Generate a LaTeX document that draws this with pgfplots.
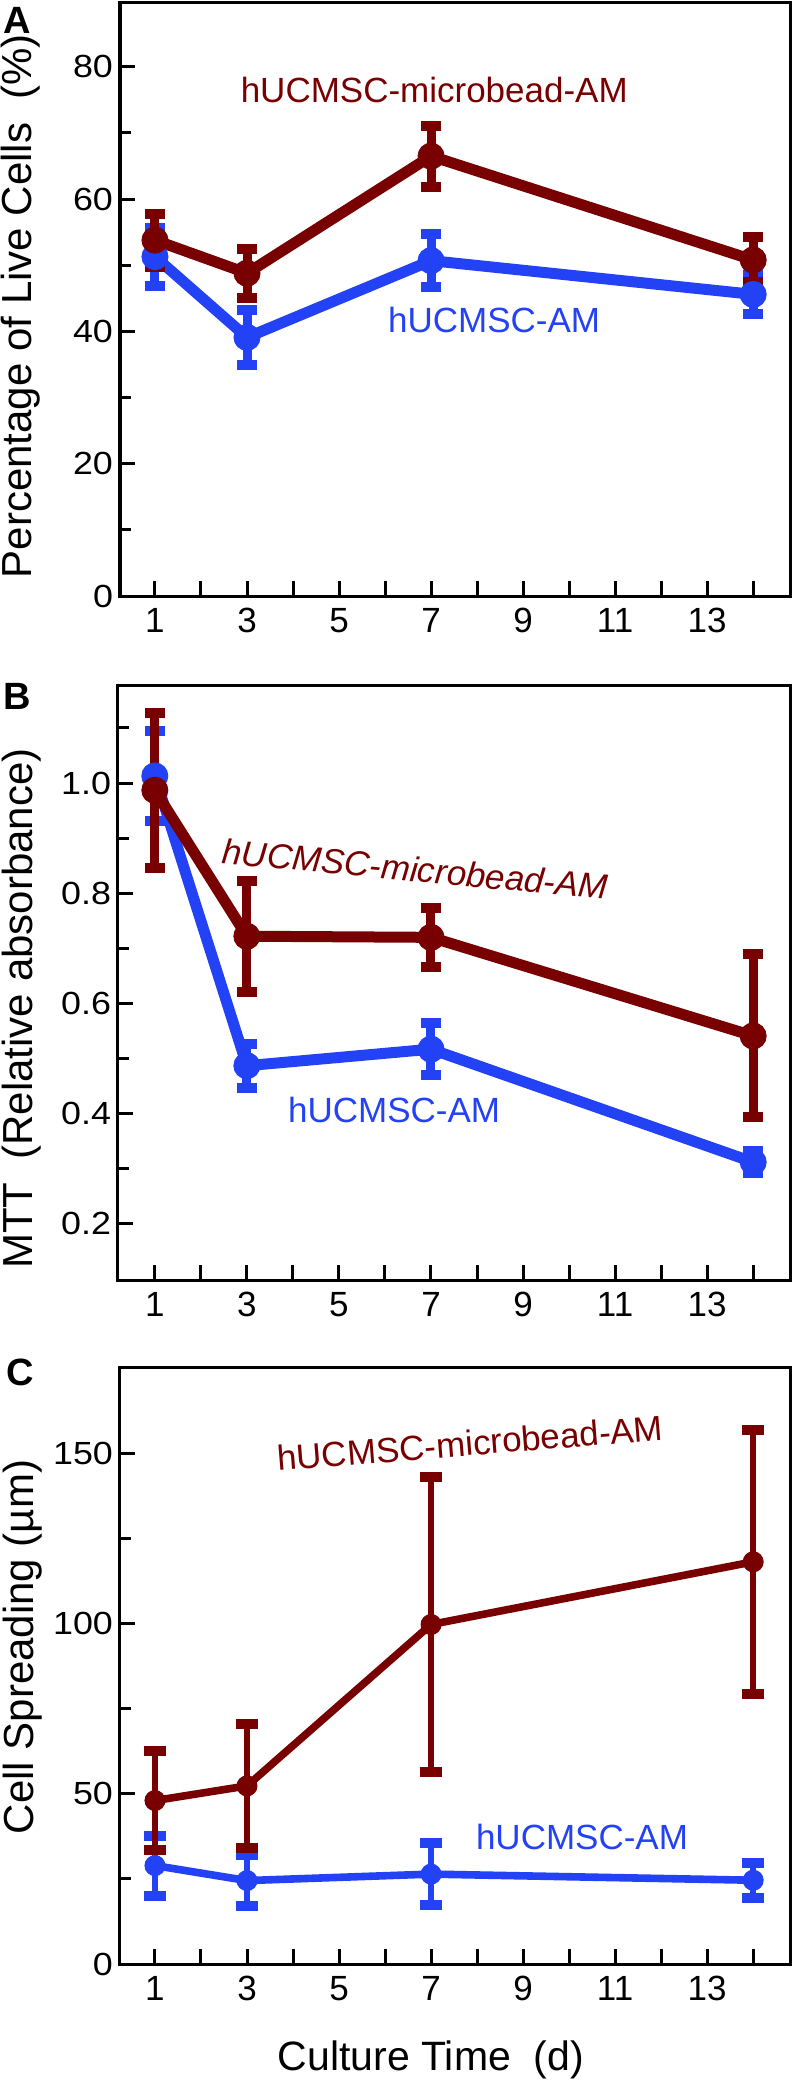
\documentclass[border=0pt]{standalone}
\usepackage{pgfplots}
\pgfplotsset{compat=1.18}
\usepackage{pgfplotstable}
\usepackage{fontspec}
\setmainfont{Liberation Sans}
\newfontfamily\ytfont[FakeStretch=1.12]{Liberation Sans}
\definecolor{dred}{RGB}{120,0,0}
\definecolor{dblue}{RGB}{35,65,245}

\pgfplotstableread{
x y e
1 53.8 4.0
3 48.8 3.7
7 66.5 4.6
14 50.8 3.4
}\redA
\pgfplotstableread{
x y e
1 51.3 4.4
3 39.1 4.2
7 50.7 4.0
14 45.6 3.0
}\blueA
\pgfplotstableread{
x y e
1 0.987 0.141
3 0.722 0.101
7 0.720 0.054
14 0.541 0.148
}\redB
\pgfplotstableread{
x y e
1 1.013 0.082
3 0.487 0.040
7 0.517 0.047
14 0.312 0.020
}\blueB
\pgfplotstableread{
x y e
1 48.0 14.6
3 52.3 18.2
7 99.7 43.3
14 118.1 38.7
}\redC
\pgfplotstableread{
x y e
1 28.9 8.8
3 24.5 7.5
7 26.4 9.1
14 24.6 5.2
}\blueC

\pgfplotsset{
  myaxis/.style={
    scale only axis,
    axis line style={line width=1.5pt},
    tick pos=left, tick align=inside,
    major tick length=7.5pt, minor tick length=5.5pt,
    every tick/.style={black, line width=1.5pt},
    xtick={1,...,14}, xticklabels={1,,3,,5,,7,,9,,11,,13,},
    xmax=14.8,
    /pgf/number format/assume math mode=true,
    xticklabel style={font=\fontsize{17.5}{20}\selectfont, yshift=-2.7pt},
    yticklabel style={font=\ytfont\fontsize{16}{19}\selectfont},
    every axis y label/.style={rotate=90, anchor=center, font=\fontsize{21}{24}\selectfont},
    every axis x label/.style={anchor=center, font=\fontsize{20.5}{24}\selectfont},
  },
  serAB/.style={color=#1, line width=5.5pt, mark=*, mark size=6.5pt,
    mark options={solid, line width=0.5pt, fill=#1},
    error bars/.cd, y dir=both, y explicit,
    error bar style={line width=4.5pt, #1},
    error mark options={rotate=90, line width=5pt, mark size=5pt, #1}},
  serC/.style={color=#1, line width=3.8pt, mark=*, mark size=5pt,
    mark options={solid, line width=0.5pt, fill=#1},
    error bars/.cd, y dir=both, y explicit,
    error bar style={line width=3pt, #1},
    error mark options={rotate=90, line width=5pt, mark size=5.5pt, #1}},
}

\begin{document}
\begin{tikzpicture}
\useasboundingbox (0,0) rectangle (396pt,-1042pt);

% Panel A
\begin{axis}[myaxis, at={(60pt,-298pt)}, anchor=south west,
  width=335pt, height=297pt, xmin=0.24,
  ymin=0, ymax=89.8, ytick={0,20,40,60,80}, minor ytick={10,30,50,70},
  ylabel={Percentage of Live Cells\ \ (\%)},
  ylabel style={at={(axis description cs:-0.149,0.488)}}]
\addplot[serAB=dblue] table[x=x,y=y,y error=e]{\blueA};
\addplot[serAB=dred] table[x=x,y=y,y error=e]{\redA};
\node[dred, font=\fontsize{17.5}{20}\selectfont] at (axis cs:7.07,76.5) {hUCMSC-microbead-AM};
\node[dblue, font=\fontsize{17.5}{20}\selectfont] at (axis cs:8.37,41.7) {hUCMSC-AM};
\end{axis}

% Panel B
\begin{axis}[myaxis, at={(59pt,-640pt)}, anchor=south west,
  width=336pt, height=297.5pt, xmin=0.2,
  ymin=0.098, ymax=1.178, ytick={0.2,0.4,0.6,0.8,1.0}, minor ytick={0.3,0.5,0.7,0.9,1.1},
  yticklabel style={/pgf/number format/.cd, fixed, fixed zerofill, precision=1},
  ylabel={MTT\ \ (Relative absorbance)},
  ylabel style={at={(axis description cs:-0.143,0.456)}}]
\addplot[serAB=dblue] table[x=x,y=y,y error=e]{\blueB};
\addplot[serAB=dred] table[x=x,y=y,y error=e]{\redB};
\node[dred, rotate=-5.4, font=\itshape\fontsize{17.5}{20}\selectfont] at (axis cs:6.66,0.844) {hUCMSC-microbead-AM};
\node[dblue, font=\fontsize{17.5}{20}\selectfont] at (axis cs:6.2,0.406) {hUCMSC-AM};
\end{axis}

% Panel C
\begin{axis}[myaxis, at={(60pt,-982pt)}, anchor=south west,
  width=335pt, height=298.5pt, xmin=0.24,
  ymin=0, ymax=175.3, ytick={0,50,100,150}, minor ytick={25,75,125},
  ylabel={Cell Spreading (µm)},
  ylabel style={at={(axis description cs:-0.146,0.531)}},
  xlabel={Culture Time\ \ (d)},
  xlabel style={at={(axis description cs:0.464,-0.161)}}]
\addplot[serC=dblue] table[x=x,y=y,y error=e]{\blueC};
\addplot[serC=dred] table[x=x,y=y,y error=e]{\redC};
\node[dred, rotate=4.6, font=\fontsize{17.5}{20}\selectfont] at (axis cs:7.85,153) {hUCMSC-microbead-AM};
\node[dblue, font=\fontsize{17.5}{20}\selectfont] at (axis cs:10.28,37.3) {hUCMSC-AM};
\end{axis}

\node[font=\bfseries\fontsize{19}{22}\selectfont] at (8.5pt,-10pt) {A};
\node[font=\bfseries\fontsize{19}{22}\selectfont] at (8.5pt,-348pt) {B};
\node[font=\bfseries\fontsize{19}{22}\selectfont] at (10pt,-686pt) {C};
\end{tikzpicture}
\end{document}
